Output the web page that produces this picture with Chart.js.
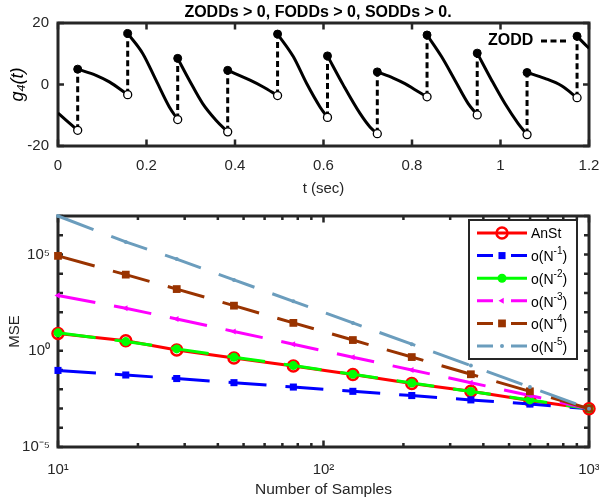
<!DOCTYPE html>
<html>
<head>
<meta charset="utf-8">
<script src="https://cdn.jsdelivr.net/npm/chart.js@4.4.1/dist/chart.umd.min.js"></script>
<style>
  body { margin: 0; background: #fff; }
  #topBox { position: absolute; left: 0; top: 0; }
  #botBox { position: absolute; left: 0; top: 200px; }
</style>
</head>
<body>
<div id="topBox"><canvas id="gChart" width="599" height="200"></canvas></div>
<div id="botBox"><canvas id="mseChart" width="599" height="303"></canvas></div>
<script>
// ---------- top panel: g4(t) ----------
// curve pieces, a null in curveG breaks the line between pieces
var curveT = [0, 0.018, 0.0445, 0.0445,
  0.0445, 0.0859, 0.116, 0.1575, 0.1575,
  0.1575, 0.1914, 0.2215, 0.2516, 0.2705, 0.2705,
  0.2705, 0.2968, 0.327, 0.357, 0.3835, 0.3835,
  0.3835, 0.4339, 0.464, 0.4962, 0.4962,
  0.4962, 0.532, 0.562, 0.5921, 0.609, 0.609,
  0.609, 0.6448, 0.6825, 0.705, 0.7216, 0.7216,
  0.7216, 0.7577, 0.784, 0.8068, 0.834, 0.834,
  0.834, 0.867, 0.897, 0.927, 0.9474, 0.9474,
  0.9474, 0.98, 1.01, 1.04, 1.06, 1.06,
  1.06, 1.1, 1.138, 1.173, 1.173,
  1.173, 1.197, 1.2];
var curveG = [-9.3, -11.6, -14.9, null,
  5.0, 3.0, 0.85, -3.3, null,
  16.6, 10.1, 1.4, -7.3, -11.4, null,
  8.5, 1.4, -6.2, -11.6, -15.4, null,
  4.6, 1.4, -0.8, -3.6, null,
  16.4, 9.0, 0.3, -7.3, -10.7, null,
  9.3, -0.2, -9.4, -13.8, -16.0, null,
  4.1, 2.1, 0.3, -1.7, -4.0, null,
  16.1, 9.0, 1.4, -6.2, -9.9, null,
  10.2, 1.4, -6.2, -12.7, -16.3, null,
  3.9, 2.0, -0.4, -4.3, null,
  15.7, 12.2, 11.8];
// jumps (ZODD): time, value before (open circle), value after (filled dot)
var jumpT = [0.0445, 0.1575, 0.2705, 0.3835, 0.4962, 0.609, 0.7216, 0.834, 0.9474, 1.06, 1.173];
var jumpLow = [-14.9, -3.3, -11.4, -15.4, -3.6, -10.7, -16.0, -4.0, -9.9, -16.3, -4.3];
var jumpHigh = [5.0, 16.6, 8.5, 4.6, 16.4, 9.3, 4.1, 16.1, 10.2, 3.9, 15.7];

// ---------- bottom panel: MSE ----------
var sampleN = [10, 18, 28, 46, 77, 129, 215, 359, 599, 1000];
var mseAnSt = [7.9, 3.3, 1.1, 0.42, 0.16, 0.058, 0.020, 0.0078, 0.0026, 0.00096];
var mseN1 = [0.095, 0.055, 0.036, 0.022, 0.013, 0.0078, 0.0047, 0.0028, 0.0017, 0.00098];
var mseN2 = [8.5, 3.0, 1.25, 0.46, 0.17, 0.06, 0.021, 0.0077, 0.0028, 0.00098];
var mseN3 = [750, 160, 45, 10, 2.2, 0.46, 0.10, 0.022, 0.0047, 0.00098];
var mseN4 = [8.5e4, 9000, 1600, 220, 28, 3.6, 0.47, 0.06, 0.0078, 0.00098];
var mseN5 = [1e7, 4.5e5, 5.8e4, 4800, 370, 28, 2.2, 0.17, 0.013, 0.00098];
var seriesNames = ['AnSt', 'o(N^-1)', 'o(N^-2)', 'o(N^-3)', 'o(N^-4)', 'o(N^-5)'];

var xTickVals = [10, 20, 30, 40, 50, 60, 70, 80, 90, 100, 200, 300, 400, 500, 600, 700, 800, 900, 1000];
var yTickExps = [-5, -4, -3, -2, -1, 0, 1, 2, 3, 4, 5, 6, 7];
var yLabelExps = [-5, 0, 5];

Chart.defaults.font.family = '"Liberation Sans", Arial, sans-serif';
Chart.defaults.color = '#262626';

var SUP = {'-': '\u207B', '0': '\u2070', '1': '\u00B9', '2': '\u00B2', '3': '\u00B3',
  '4': '\u2074', '5': '\u2075', '6': '\u2076', '7': '\u2077', '8': '\u2078', '9': '\u2079'};
function pow10Label(e) {
  return '10' + String(e).split('').map(function (c) { return SUP[c]; }).join('');
}
function isDecade(v) {
  var l = Math.log10(v);
  return Math.abs(l - Math.round(l)) < 1e-9;
}

// box round the axes with MATLAB style inner ticks
var axesBox = {
  id: 'axesBox',
  beforeDatasetsDraw: function (chart, args, opts) {
    var ctx = chart.ctx, a = chart.chartArea, sx = chart.scales.x, sy = chart.scales.y;
    ctx.save();
    ctx.strokeStyle = '#262626';
    ctx.lineWidth = 2.5;
    ctx.beginPath();
    sx.ticks.forEach(function (t) {
      var px = sx.getPixelForValue(t.value);
      var len = (opts.logX && !isDecade(t.value)) ? opts.xMinor : opts.xMajor;
      ctx.moveTo(px, a.bottom); ctx.lineTo(px, a.bottom - len);
      ctx.moveTo(px, a.top); ctx.lineTo(px, a.top + len);
    });
    sy.ticks.forEach(function (t) {
      var py = sy.getPixelForValue(t.value);
      ctx.moveTo(a.left, py); ctx.lineTo(a.left + opts.yLen, py);
      ctx.moveTo(a.right, py); ctx.lineTo(a.right - opts.yLen, py);
    });
    ctx.stroke();
    ctx.lineWidth = 3;
    ctx.strokeRect(a.left, a.top, a.right - a.left, a.bottom - a.top);
    ctx.restore();
  }
};

// title + ZODD legend for the top panel
var topDecor = {
  id: 'topDecor',
  afterDatasetsDraw: function (chart) {
    var ctx = chart.ctx, a = chart.chartArea;
    ctx.save();
    ctx.fillStyle = '#000';
    ctx.font = 'bold 16px "Liberation Sans", Arial, sans-serif';
    ctx.textAlign = 'center';
    ctx.textBaseline = 'middle';
    ctx.fillText('ZODDs > 0, FODDs > 0, SODDs > 0.', 318, 12.5);
    ctx.textAlign = 'left';
    ctx.fillText('ZODD', a.right - 101, a.top + 18);
    ctx.strokeStyle = '#000';
    ctx.lineWidth = 3;
    ctx.setLineDash([6, 3.5]);
    ctx.beginPath();
    ctx.moveTo(a.right - 48, a.top + 18);
    ctx.lineTo(a.right - 21, a.top + 18);
    ctx.stroke();
    ctx.restore();
  }
};

// legend box for the bottom panel, labels with superscripts
var mseLegend = {
  id: 'mseLegend',
  afterDatasetsDraw: function (chart) {
    var ctx = chart.ctx, a = chart.chartArea;
    var bx = a.right - 120, by = a.top + 4, bw = 108, bh = 139;
    ctx.save();
    ctx.fillStyle = '#fff';
    ctx.fillRect(bx, by, bw, bh);
    ctx.strokeStyle = '#262626';
    ctx.lineWidth = 2;
    ctx.strokeRect(bx, by, bw, bh);
    chart.data.datasets.forEach(function (ds, i) {
      var y = by + 13 + i * 22.6;
      var x0 = bx + 8, x1 = bx + 58, xm = (x0 + x1) / 2;
      ctx.strokeStyle = ds.borderColor;
      ctx.lineWidth = ds.borderWidth;
      ctx.beginPath();
      if (ds.borderDash && i !== 2) {
        ctx.moveTo(x0, y); ctx.lineTo(x0 + 16, y);
        ctx.moveTo(x1 - 16, y); ctx.lineTo(x1, y);
      } else {
        ctx.moveTo(x0, y); ctx.lineTo(x1, y);
      }
      ctx.stroke();
      ctx.fillStyle = ds.pointBackgroundColor;
      ctx.strokeStyle = ds.pointBorderColor;
      ctx.lineWidth = ds.pointBorderWidth;
      Chart.helpers.drawPoint(ctx, {pointStyle: ds.pointStyle, radius: ds.pointRadius,
        rotation: ds.pointRotation || 0, borderWidth: ds.pointBorderWidth}, xm, y);
      // text
      var parts = seriesNames[i].split('^');
      ctx.fillStyle = '#000';
      ctx.textAlign = 'left';
      ctx.textBaseline = 'middle';
      var tx = bx + 62;
      ctx.font = '14px "Liberation Sans", Arial, sans-serif';
      if (parts.length === 1) {
        ctx.fillText(parts[0], tx, y + 1);
      } else {
        var exp = parts[1].replace(')', '');
        ctx.fillText(parts[0], tx, y + 2);
        tx += ctx.measureText(parts[0]).width;
        ctx.font = '10px "Liberation Sans", Arial, sans-serif';
        ctx.fillText(exp, tx, y - 4);
        tx += ctx.measureText(exp).width;
        ctx.font = '14px "Liberation Sans", Arial, sans-serif';
        ctx.fillText(')', tx, y + 2);
      }
    });
    ctx.restore();
  }
};

function fixWidth(w) {
  return function (scale) { scale.width = w; scale.paddingTop = 0; scale.paddingBottom = 0; };
}
function fixHeight(h) {
  return function (scale) { scale.height = h; scale.paddingLeft = 0; scale.paddingRight = 0; };
}

// ---------- top chart ----------
var curveData = curveT.map(function (t, i) { return {x: t, y: curveG[i]}; });
var zoddData = [];
jumpT.forEach(function (t, i) {
  zoddData.push({x: t, y: jumpLow[i]}, {x: t, y: jumpHigh[i]}, {x: t, y: null});
});

new Chart(document.getElementById('gChart'), {
  type: 'line',
  data: {
    datasets: [{
      label: 'g4',
      data: curveData,
      borderColor: '#000',
      borderWidth: 3,
      pointRadius: 0,
      cubicInterpolationMode: 'monotone',
      order: 4
    }, {
      label: 'ZODD',
      data: zoddData,
      borderColor: '#000',
      borderWidth: 3,
      borderDash: [6, 3.5],
      pointRadius: 0,
      tension: 0,
      order: 3
    }, {
      label: 'before',
      data: jumpT.map(function (t, i) { return {x: t, y: jumpLow[i]}; }),
      showLine: false,
      pointRadius: 4,
      pointBorderWidth: 1.3,
      pointBackgroundColor: '#fff',
      pointBorderColor: '#000',
      order: 2
    }, {
      label: 'after',
      data: jumpT.map(function (t, i) { return {x: t, y: jumpHigh[i]}; }),
      showLine: false,
      pointRadius: 4,
      pointBorderWidth: 1,
      pointBackgroundColor: '#000',
      pointBorderColor: '#000',
      order: 1
    }]
  },
  options: {
    responsive: false,
    animation: false,
    events: [],
    layout: {padding: {left: 0, right: 10, top: 23, bottom: 0}},
    plugins: {
      legend: {display: false},
      tooltip: {enabled: false},
      axesBox: {xMajor: 6.5, xMinor: 6.5, yLen: 6}
    },
    scales: {
      x: {
        type: 'linear', min: 0, max: 1.2,
        grid: {display: false, drawTicks: false},
        border: {display: false},
        ticks: {
          stepSize: 0.2, padding: 11, font: {size: 15}, color: '#262626', maxRotation: 0,
          callback: function (v) { return String(Math.round(v * 10) / 10); }
        },
        title: {display: true, text: 't (sec)', font: {size: 15}, color: '#262626', padding: {top: 0, bottom: 2}},
        afterFit: fixHeight(54)
      },
      y: {
        min: -20, max: 20,
        grid: {display: false, drawTicks: false},
        border: {display: false},
        ticks: {stepSize: 20, padding: 9, font: {size: 15}, color: '#262626'},
        title: {display: true, text: 'g\u2084(t)', font: {size: 18, style: 'italic'}, color: '#000', padding: {top: 7, bottom: 0}},
        afterFit: fixWidth(58)
      }
    }
  },
  plugins: [axesBox, topDecor]
});

// ---------- bottom chart ----------
var longDash = [38, 19];
function series(values) {
  return values.map(function (v, i) { return {x: sampleN[i], y: v}; });
}

new Chart(document.getElementById('mseChart'), {
  type: 'line',
  data: {
    datasets: [{
      label: seriesNames[0], data: series(mseAnSt),
      borderColor: '#ff0000', borderWidth: 3,
      pointStyle: 'circle', pointRadius: 5.5, pointBorderWidth: 2.5,
      pointBorderColor: '#ff0000', pointBackgroundColor: 'rgba(0,0,0,0)', order: 6
    }, {
      label: seriesNames[1], data: series(mseN1),
      borderColor: '#0000ff', borderWidth: 3, borderDash: longDash,
      pointStyle: 'rect', pointRadius: 5, pointBorderWidth: 0,
      pointBorderColor: '#0000ff', pointBackgroundColor: '#0000ff', order: 5
    }, {
      label: seriesNames[2], data: series(mseN2),
      borderColor: '#00ff00', borderWidth: 3, borderDash: longDash,
      pointStyle: 'circle', pointRadius: 4.5, pointBorderWidth: 0,
      pointBorderColor: '#00ff00', pointBackgroundColor: '#00ff00', order: 4
    }, {
      label: seriesNames[3], data: series(mseN3),
      borderColor: '#ff00ff', borderWidth: 3, borderDash: longDash,
      pointStyle: 'triangle', pointRotation: 270, pointRadius: 3.5, pointBorderWidth: 0,
      pointBorderColor: '#ff00ff', pointBackgroundColor: '#ff00ff', order: 3
    }, {
      label: seriesNames[4], data: series(mseN4),
      borderColor: '#993300', borderWidth: 3, borderDash: longDash,
      pointStyle: 'rect', pointRadius: 5.5, pointBorderWidth: 0,
      pointBorderColor: '#993300', pointBackgroundColor: '#993300', order: 2
    }, {
      label: seriesNames[5], data: series(mseN5),
      borderColor: '#6b9dbd', borderWidth: 3, borderDash: longDash,
      pointStyle: 'circle', pointRadius: 2, pointBorderWidth: 0,
      pointBorderColor: '#6b9dbd', pointBackgroundColor: '#6b9dbd', order: 1
    }]
  },
  options: {
    responsive: false,
    animation: false,
    events: [],
    clip: false,
    layout: {padding: {left: 0, right: 10, top: 16, bottom: 0}},
    plugins: {
      legend: {display: false},
      tooltip: {enabled: false},
      axesBox: {logX: true, xMajor: 6.5, xMinor: 4, yLen: 5}
    },
    scales: {
      x: {
        type: 'logarithmic', min: 10, max: 1000,
        grid: {display: false, drawTicks: false},
        border: {display: false},
        afterBuildTicks: function (scale) {
          scale.ticks = xTickVals.map(function (v) { return {value: v}; });
        },
        ticks: {
          autoSkip: false, maxRotation: 0, padding: 14, font: {size: 15}, color: '#262626',
          callback: function (v) { return isDecade(v) ? pow10Label(Math.round(Math.log10(v))) : ''; }
        },
        title: {display: true, text: 'Number of Samples', font: {size: 15.5}, color: '#262626', padding: {top: 0, bottom: 4}},
        afterFit: fixHeight(56)
      },
      y: {
        type: 'logarithmic', min: 1e-5, max: 1e7,
        grid: {display: false, drawTicks: false},
        border: {display: false},
        afterBuildTicks: function (scale) {
          scale.ticks = yTickExps.map(function (e) { return {value: Math.pow(10, e)}; });
        },
        ticks: {
          autoSkip: false, padding: 8, font: {size: 15}, color: '#262626',
          callback: function (v) {
            var e = Math.round(Math.log10(v));
            return yLabelExps.indexOf(e) >= 0 ? pow10Label(e) : '';
          }
        },
        title: {display: true, text: 'MSE', font: {size: 15}, color: '#262626', padding: {top: 6, bottom: 0}},
        afterFit: fixWidth(58)
      }
    }
  },
  plugins: [axesBox, mseLegend]
});
</script>
</body>
</html>
